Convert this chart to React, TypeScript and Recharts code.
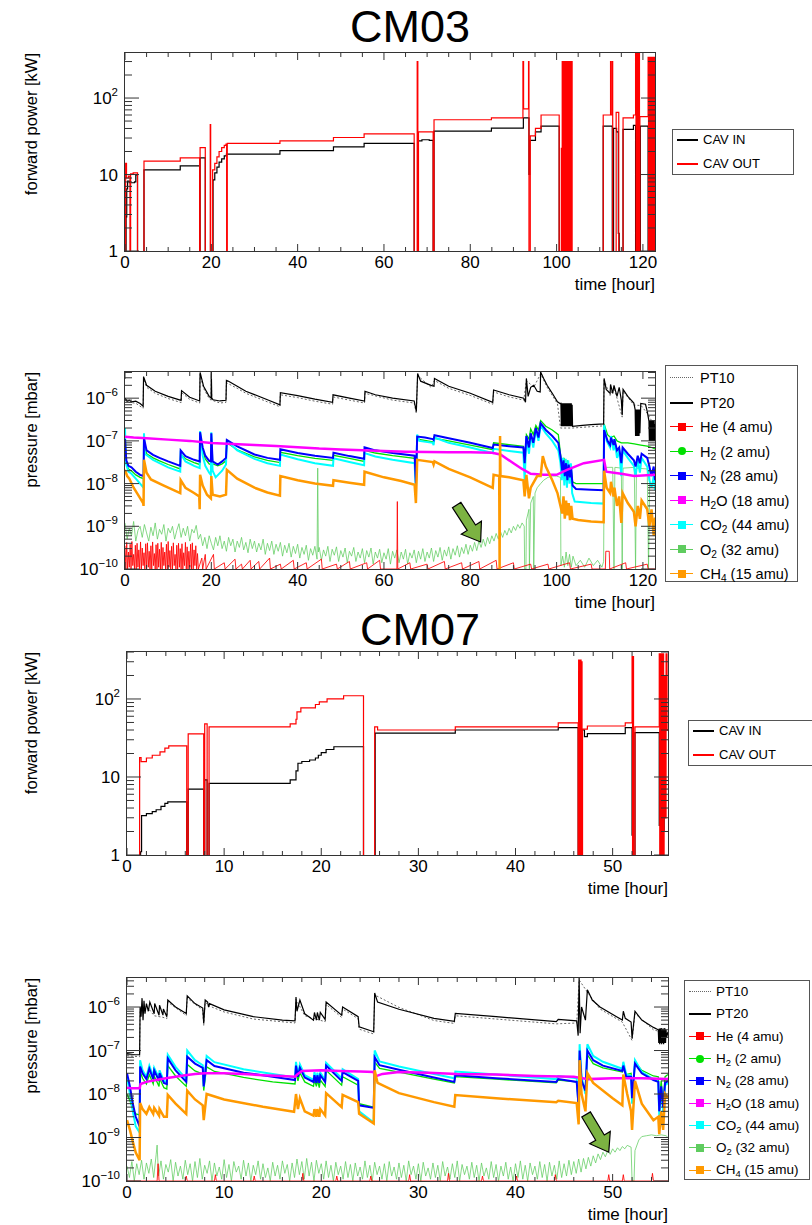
import React from 'react';
import { LineChart, Line, XAxis, YAxis, ReferenceDot } from 'recharts';

type Pt = [number, number];

const FONT = '"Liberation Sans", Arial, Helvetica, sans-serif';
const INK = '#333';
const W = 812;

// ---------- CM03 forward power [kW] vs time [hour] ----------
const CM03_CAV_IN: Pt[] = [
  [0.2, 0.5], [0.25, 2.8], [0.4, 6.5], [0.6, 8.2], [1.0, 7.8], [2.2, 8.0], [2.5, 9.9], [2.9, 0.5],
  [4.4, 11.5], [12.8, 13.0], [17.3, 0.5], [17.4, 16.5], [18.6, 0.5], [20.4, 8.5], [20.8, 10.5],
  [21.3, 12.5], [21.8, 14.5], [22.4, 16.0], [23.0, 17.5], [23.5, 18.5], [35.9, 20.5], [48.3, 23.0],
  [55.4, 25.5], [67.0, 0.5], [67.9, 27.5], [68.8, 28.5], [70.5, 28.0], [71.4, 0.5], [71.6, 37.0],
  [84.9, 40.5], [92.3, 55.0], [93.6, 10.0], [93.8, 28.0], [95.1, 36.0], [96.4, 43.0], [100.6, 0.5],
  [110.8, 43.0], [112.9, 0.5], [113.2, 40.0], [113.9, 36.0], [114.3, 1.7], [114.5, 0.5], [115.4, 39.0],
  [117.8, 44.0], [118.3, 0.5], [119.4, 43.0], [121.2, 0.5], [122.8, 0.5],
];
const CM03_CAV_OUT: Pt[] = [
  [0.1, 0.5], [0.15, 14.0], [0.35, 9.0], [0.8, 9.5], [1.15, 0.5], [1.3, 10.2], [1.9, 10.5], [2.9, 0.5],
  [4.4, 15.0], [12.8, 16.5], [17.3, 0.5], [17.4, 22.5], [18.6, 0.5], [19.75, 45.0], [19.85, 0.5],
  [20.3, 11.5], [20.8, 14.0], [21.3, 17.0], [21.8, 20.0], [22.4, 22.5], [23.0, 24.0], [23.4, 25.0],
  [23.55, 0.5], [23.7, 25.5], [35.9, 27.5], [48.3, 30.5], [55.4, 34.0], [67.0, 0.5], [67.7, 300],
  [67.85, 0.5], [68.0, 36.0], [71.4, 0.5], [71.6, 52.0], [84.9, 55.0], [92.2, 300], [92.35, 72.0],
  [93.5, 300], [93.6, 0.5], [93.9, 32.0], [95.1, 40.0], [96.4, 60.0], [100.6, 0.5], [101.1, 22.0],
  [101.2, 0.5], [101.3, 300], [101.4, 0.5], [101.5, 300], [101.6, 0.5], [101.7, 300], [101.8, 0.5],
  [101.9, 300], [102.0, 0.5], [102.1, 300], [102.2, 0.5], [102.3, 300], [102.4, 0.5], [102.5, 300],
  [102.6, 0.5], [102.7, 300], [102.8, 0.5], [102.9, 300], [103.0, 0.5], [103.1, 300], [103.2, 0.5],
  [103.3, 300], [103.4, 0.5], [103.5, 300], [103.6, 0.5], [110.8, 60.0], [112.5, 300], [112.6, 60.0],
  [112.9, 300], [113.0, 0.5], [113.8, 65.0], [114.4, 0.5], [115.4, 55.0], [117.8, 60.0], [118.3, 400],
  [118.4, 0.5], [118.5, 400], [118.6, 0.5], [118.7, 400], [118.8, 0.5], [118.9, 400], [119.0, 0.5],
  [119.1, 400], [119.2, 0.5], [119.3, 57.0], [121.2, 340], [121.3, 0.5], [121.4, 340], [121.5, 0.5],
  [121.6, 340], [121.7, 0.5], [121.8, 340], [121.9, 0.5], [122.0, 340], [122.1, 0.5], [122.2, 340],
  [122.3, 0.5], [122.4, 340], [122.5, 0.5], [122.6, 340], [122.7, 0.5], [122.8, 340],
];

// ---------- CM03 pressure [mbar] ----------
const CM03_PT10: Pt[] = [
  [0, 9e-7], [1, 8e-7], [2.5, 7.6e-7], [4.2, 5.8e-7], [4.3, 2.9e-6], [5, 1.8e-6], [7, 1.3e-6], [10, 9.8e-7],
  [13, 7.9e-7], [13.1, 1.35e-6], [15, 9.4e-7], [17.3, 7.7e-7], [17.4, 3.6e-6], [18.2, 1.7e-6], [19.5, 9.8e-7],
  [19.95, 9e-7], [20.0, 3.7e-6], [20.1, 9e-7], [22, 7.7e-7], [23.4, 8e-7], [23.5, 2.3e-6], [26, 1.7e-6],
  [28, 1.3e-6], [33, 8.2e-7], [35.9, 6.3e-7], [36, 1.2e-6], [40, 1.03e-6], [44, 8.5e-7], [48.1, 7.2e-7],
  [48.2, 1.07e-6], [52, 9e-7], [55.5, 7.7e-7], [55.6, 1.3e-6], [62, 9e-7], [67, 7.7e-7], [67.5, 4.4e-7],
  [67.8, 3.4e-6], [70.9, 1.8e-6], [71.7, 2.6e-6], [75, 1.7e-6], [80, 1.16e-6], [85.2, 7.2e-7], [85.4, 1.4e-6],
  [89, 1.07e-6], [92.4, 9e-7], [93.0, 2.6e-6], [94.7, 1.8e-6], [96.3, 3.7e-6], [97.8, 1.8e-6], [99.0, 1.16e-6],
  [100.2, 7.4e-7], [100.9, 2e-7], [103.7, 2e-7], [108, 2.15e-7], [110.9, 2.25e-7], [111.0, 2.6e-6],
  [112.4, 1.16e-6], [113.3, 1.8e-6], [115.2, 3.6e-7], [115.4, 1.45e-6], [117.9, 6.9e-7], [119.6, 6.7e-7],
  [121.0, 4.4e-7], [122.8, 2.2e-7],
];
const CM03_PT20: Pt[] = [
  [0, 1.0e-6], [0.5, 8.5e-7], [1, 9e-7], [1.5, 8.2e-7], [2.5, 8.5e-7], [3.5, 7.5e-7], [4.2, 6.5e-7],
  [4.3, 3.2e-6], [5, 2.0e-6], [7, 1.45e-6], [10, 1.1e-6], [13, 8.9e-7], [13.1, 1.5e-6], [15, 1.05e-6],
  [17.3, 8.6e-7], [17.4, 4.0e-6], [18.2, 1.9e-6], [19.5, 1.1e-6], [19.95, 1.0e-6], [20.0, 4.1e-6],
  [20.1, 1.0e-6], [20.4, 9.2e-7], [22, 8.6e-7], [23.4, 8.9e-7], [23.5, 2.6e-6], [24, 2.5e-6], [26, 1.9e-6],
  [28, 1.45e-6], [33, 9.2e-7], [35.9, 7.0e-7], [36, 1.35e-6], [40, 1.15e-6], [44, 9.5e-7], [48.1, 8e-7],
  [48.2, 1.2e-6], [52, 1.0e-6], [55.5, 8.6e-7], [55.6, 1.45e-6], [58, 1.2e-6], [62, 1.0e-6], [67, 8.6e-7],
  [67.5, 4.9e-7], [67.8, 3.8e-6], [68.5, 2.5e-6], [70.9, 2.0e-6], [71.6, 1.9e-6], [71.7, 2.9e-6],
  [75, 1.9e-6], [80, 1.3e-6], [85.2, 8e-7], [85.4, 1.55e-6], [89, 1.2e-6], [92.4, 1.0e-6], [92.8, 8e-7],
  [93.0, 2.9e-6], [93.4, 1.1e-6], [94.0, 1.8e-6], [94.7, 2.0e-6], [95.5, 1.45e-6], [96.2, 1.4e-6],
  [96.3, 4.1e-6], [97.0, 2.9e-6], [97.8, 2.0e-6], [99.0, 1.3e-6], [100.2, 8.2e-7], [100.8, 7.5e-7],
  [101.0, 7.6e-7], [101.1, 2.2e-7], [101.2, 7.6e-7], [101.3, 2.2e-7], [101.4, 7.6e-7], [101.5, 2.2e-7],
  [101.6, 7.6e-7], [101.7, 2.2e-7], [101.8, 7.6e-7], [101.9, 2.2e-7], [102.0, 7.6e-7], [102.1, 2.2e-7],
  [102.2, 7.6e-7], [102.3, 2.2e-7], [102.4, 7.6e-7], [102.5, 2.2e-7], [102.6, 7.6e-7], [102.7, 2.2e-7],
  [102.8, 7.6e-7], [102.9, 2.2e-7], [103.0, 7.6e-7], [103.1, 2.2e-7], [103.2, 7.6e-7], [103.3, 2.2e-7],
  [103.4, 7.6e-7], [103.5, 2.2e-7], [103.6, 7.0e-7], [103.7, 2.2e-7], [106, 2.3e-7], [108, 2.4e-7],
  [110.9, 2.5e-7], [111.0, 2.9e-6], [111.5, 1.6e-6], [112.4, 1.3e-6], [112.5, 2.1e-6], [113.0, 1.3e-6],
  [113.3, 2.0e-6], [114.0, 1.1e-6], [114.5, 1.8e-6], [115.0, 9e-7], [115.2, 4e-7], [115.4, 1.6e-6],
  [116.5, 1.1e-6], [117.9, 7.7e-7], [118.2, 5.4e-7], [118.3, 1.3e-7], [118.4, 5.4e-7], [118.5, 1.3e-7],
  [118.6, 5.4e-7], [118.7, 1.3e-7], [118.8, 5.4e-7], [118.9, 1.3e-7], [119.0, 5.4e-7], [119.1, 1.3e-7],
  [119.2, 5.4e-7], [119.3, 1.5e-7], [119.5, 7.5e-7], [120.6, 7.2e-7], [121.0, 4.9e-7], [121.4, 2.9e-7],
  [121.5, 1.0e-7], [121.6, 2.9e-7], [121.7, 1.0e-7], [121.8, 2.9e-7], [121.9, 1.0e-7], [122.0, 2.9e-7],
  [122.1, 1.0e-7], [122.2, 2.9e-7], [122.3, 1.0e-7], [122.4, 2.9e-7], [122.5, 1.0e-7], [122.6, 2.9e-7],
  [122.7, 1.0e-7], [122.8, 2.5e-7],
];
const CM03_HE: Pt[] = [
  [0, 3.5e-10], [0.2, 1e-10], [0.4, 4.2e-10], [0.6, 1e-10], [0.8, 2.5e-10], [1.0, 1.1e-10], [1.2, 3.8e-10],
  [1.4, 1e-10], [1.6, 4.4e-10], [1.8, 1.2e-10], [2.0, 2.2e-10], [2.2, 1e-10], [2.4, 3.6e-10], [2.6, 1e-10],
  [2.8, 4e-10], [3.0, 1.1e-10], [3.2, 2.8e-10], [3.4, 1e-10], [3.6, 4.3e-10], [3.8, 1e-10], [4.0, 3.1e-10],
  [4.2, 1.2e-10], [4.4, 2.4e-10], [4.6, 1e-10], [4.8, 3.9e-10], [5.0, 1e-10], [5.2, 4.1e-10], [5.4, 1.1e-10],
  [5.6, 2.6e-10], [5.8, 1e-10], [6.0, 3.5e-10], [6.2, 1e-10], [6.4, 4.3e-10], [6.6, 1.2e-10], [6.8, 2.3e-10],
  [7.0, 1e-10], [7.2, 3.7e-10], [7.4, 1e-10], [7.6, 4e-10], [7.8, 1.1e-10], [8.0, 2.9e-10], [8.2, 1e-10],
  [8.4, 4.2e-10], [8.6, 1e-10], [8.8, 3.2e-10], [9.0, 1.2e-10], [9.2, 2.5e-10], [9.4, 1e-10], [9.6, 3.8e-10],
  [9.8, 1e-10], [10.0, 4.4e-10], [10.2, 1.1e-10], [10.4, 2.7e-10], [10.6, 1e-10], [10.8, 3.4e-10],
  [11.0, 1e-10], [11.2, 4.1e-10], [11.4, 1.2e-10], [11.6, 2.2e-10], [11.8, 1e-10], [12.0, 3.6e-10],
  [12.2, 1e-10], [12.4, 4e-10], [12.6, 1.1e-10], [12.8, 3e-10], [13.0, 1e-10], [13.2, 3.9e-10], [13.4, 1e-10],
  [13.6, 2.4e-10], [13.8, 1.2e-10], [14.0, 4.2e-10], [14.2, 1e-10], [14.4, 3.3e-10], [14.6, 1e-10],
  [14.8, 2.6e-10], [15.0, 1.1e-10], [15.2, 3.8e-10], [15.4, 1e-10], [15.6, 4.1e-10], [15.8, 1e-10],
  [16.0, 2.8e-10], [16.2, 1.2e-10], [16.4, 3.5e-10], [16.6, 1e-10], [16.8, 2.3e-10], [17.0, 1e-10],
  [17.8, 1.8e-10], [18.0, 1e-10], [18.6, 2.2e-10], [18.8, 1e-10], [20.5, 2.2e-10], [20.7, 1e-10],
  [23, 1.4e-10], [23.2, 1e-10], [25.5, 1.7e-10], [25.7, 1e-10], [27, 1.3e-10], [27.2, 1e-10], [29, 1.6e-10],
  [29.2, 1e-10], [31, 1.5e-10], [31.2, 1e-10], [33.5, 1.8e-10], [33.7, 1e-10], [36, 1.3e-10], [36.2, 1e-10],
  [39, 1.6e-10], [39.2, 1e-10], [42, 1.4e-10], [42.2, 1e-10], [45.5, 1.7e-10], [45.7, 1e-10], [49, 1.3e-10],
  [49.2, 1e-10], [52, 1.5e-10], [52.2, 1e-10], [56, 1.4e-10], [56.2, 1e-10], [59, 1.6e-10], [59.2, 1e-10],
  [63.0, 1e-10], [63.1, 3.8e-9], [63.2, 1e-10], [66, 1.4e-10], [66.2, 1e-10], [70, 1.3e-10], [70.2, 1e-10],
  [74, 1.5e-10], [74.2, 1e-10], [78, 1.4e-10], [78.2, 1e-10], [82, 1.5e-10], [82.2, 1e-10], [86, 1.6e-10],
  [86.2, 1e-10], [90, 1.4e-10], [90.2, 1e-10], [94, 1.3e-10], [94.2, 1e-10], [98, 1.3e-10], [98.2, 1e-10],
  [103, 1.4e-10], [103.2, 1e-10], [108, 1.3e-10], [108.2, 1e-10], [111.3, 1e-10], [111.4, 2.6e-10],
  [112.2, 2.6e-10], [112.3, 1e-10], [116, 1.4e-10], [116.2, 1e-10], [121, 1.3e-10], [121.2, 1e-10],
  [122.8, 1e-10],
];
const CM03_H2: Pt[] = [
  [0, 9e-8], [0.3, 3e-8], [0.8, 2.2e-8], [1.5, 2.0e-8], [2.5, 1.6e-8], [3.5, 1.4e-8], [4.3, 1.3e-8],
  [4.4, 9e-8], [5, 5.0e-8], [6.5, 4.0e-8], [8, 3.4e-8], [10, 2.8e-8], [12.8, 2.2e-8], [12.9, 5.0e-8],
  [14, 3.8e-8], [16, 3.1e-8], [17.3, 2.8e-8], [17.4, 1.3e-7], [18, 6e-8], [18.6, 3.8e-8], [19.5, 2.9e-8],
  [19.9, 2.8e-8], [20.0, 1.2e-7], [20.3, 2.9e-8], [21.5, 2.6e-8], [22.5, 2.9e-8], [23.4, 3.4e-8],
  [23.6, 9e-8], [26, 6.2e-8], [30, 4.2e-8], [33, 3.5e-8], [35.9, 3.1e-8], [36.0, 5.4e-8], [40, 4.5e-8],
  [44, 3.9e-8], [48.2, 3.5e-8], [48.3, 4.6e-8], [52, 3.9e-8], [55.4, 3.3e-8], [55.5, 6.0e-8], [58, 5.2e-8],
  [62, 4.5e-8], [67.1, 3.9e-8], [67.4, 1.0e-8], [67.7, 1.1e-7], [71.3, 9.5e-8], [71.5, 9e-8],
  [71.7, 1.15e-7], [75, 1.0e-7], [80, 8e-8], [85.2, 6.2e-8], [85.4, 9e-8], [89, 8.2e-8], [92.3, 7.5e-8],
  [92.6, 3e-8], [93.0, 1.4e-7], [93.6, 1.1e-7], [94.0, 1.9e-7], [94.6, 1.4e-7], [95.2, 2.3e-7],
  [95.8, 1.8e-7], [96.3, 3.0e-7], [97.5, 2.2e-7], [99, 1.8e-7], [100.4, 1.4e-7], [100.9, 5e-8],
  [101.3, 2.5e-8], [101.7, 4e-8], [102.1, 1.8e-8], [102.5, 3.5e-8], [102.9, 1.6e-8], [103.3, 2.8e-8],
  [103.7, 1.1e-8], [104.5, 1.0e-8], [108, 1.0e-8], [110.9, 1.0e-8], [111.0, 2.5e-7], [111.8, 1.4e-7],
  [112.5, 1.2e-7], [113.3, 1.3e-7], [114.0, 1.0e-7], [115.0, 9e-8], [116.5, 9e-8], [118, 8.5e-8],
  [119.5, 8e-8], [121, 7.5e-8], [122, 7e-8], [122.8, 6.5e-8],
];
const CM03_N2: Pt[] = [
  [0, 1.1e-7], [0.3, 3.5e-8], [0.8, 2.6e-8], [1.5, 2.4e-8], [2.5, 1.9e-8], [3.5, 1.6e-8], [4.3, 1.5e-8],
  [4.4, 1.15e-7], [5, 6.0e-8], [6.5, 4.7e-8], [8, 4.0e-8], [10, 3.3e-8], [12.8, 2.6e-8], [12.9, 6.0e-8],
  [14, 4.4e-8], [16, 3.6e-8], [17.3, 3.3e-8], [17.4, 1.6e-7], [18.0, 7e-8], [18.6, 4.5e-8], [19.5, 3.4e-8],
  [19.9, 3.3e-8], [20.0, 1.5e-7], [20.3, 3.3e-8], [21.5, 2.8e-8], [22.5, 3.3e-8], [23.4, 4e-8],
  [23.6, 1.05e-7], [26, 7.4e-8], [30, 4.8e-8], [33, 4.0e-8], [35.9, 3.6e-8], [36.0, 6.4e-8], [40, 5.2e-8],
  [44, 4.5e-8], [48.2, 4.0e-8], [48.3, 5.3e-8], [52, 4.4e-8], [55.4, 3.8e-8], [55.5, 7.1e-8], [58, 6e-8],
  [62, 5.2e-8], [67.1, 4.5e-8], [67.4, 1.0e-8], [67.7, 1.26e-7], [69.5, 1.2e-7], [71.3, 1.1e-7],
  [71.5, 1.05e-7], [71.7, 1.35e-7], [75, 1.15e-7], [80, 9e-8], [85.2, 6.8e-8], [85.4, 8.2e-8], [89, 7.5e-8],
  [92.3, 7e-8], [92.6, 3e-8], [93.0, 1.3e-7], [93.6, 7e-8], [94.0, 1.5e-7], [94.6, 9e-8], [95.2, 2.0e-7],
  [95.8, 1.2e-7], [96.3, 2.6e-7], [97.5, 1.8e-7], [99, 1.3e-7], [100.4, 9e-8], [100.9, 4.4e-8],
  [101.3, 2e-8], [101.6, 3.5e-8], [101.9, 1.5e-8], [102.2, 3e-8], [102.5, 1.2e-8], [102.8, 2.8e-8],
  [103.1, 1.4e-8], [103.4, 2.2e-8], [103.7, 9e-9], [104.5, 7.5e-9], [108, 7.2e-9], [110.9, 7.0e-9],
  [111.0, 1.8e-7], [111.8, 1.0e-7], [112.4, 8e-8], [112.6, 1.2e-7], [113.2, 8e-8], [113.4, 1.1e-7],
  [114.0, 6e-8], [114.5, 7e-8], [115.0, 3e-8], [115.3, 7e-8], [116.5, 5e-8], [117.9, 3.5e-8],
  [118.3, 2.5e-8], [118.8, 4.5e-8], [119.3, 3e-8], [119.7, 5e-8], [121, 4e-8], [121.5, 2.5e-8],
  [122, 1.5e-8], [122.5, 2.5e-8], [122.8, 1.2e-8],
];
const CM03_H2O: Pt[] = [
  [0, 1.25e-7], [2, 1.2e-7], [5, 1.15e-7], [10, 1.07e-7], [15, 1.0e-7], [20, 8.9e-8], [25, 8.5e-8],
  [30, 8e-8], [35, 7.6e-8], [40, 7.1e-8], [45, 6.6e-8], [50, 6.3e-8], [55, 6.0e-8], [60, 5.8e-8],
  [65, 5.6e-8], [70, 5.5e-8], [75, 5.4e-8], [80, 5.4e-8], [85, 5.3e-8], [87, 4.8e-8], [90, 3.0e-8],
  [92, 2.2e-8], [94, 1.7e-8], [97, 1.6e-8], [100, 1.6e-8], [102.4, 2.1e-8], [106.3, 3.0e-8], [111, 3.6e-8],
  [111.5, 1.9e-8], [115, 1.7e-8], [118, 1.5e-8], [122.8, 1.6e-8],
];
const CM03_CO2: Pt[] = [
  [0, 2.0e-7], [0.2, 3e-8], [0.8, 1.9e-8], [1.5, 1.7e-8], [2.5, 1.3e-8], [3.5, 1.0e-8], [4.3, 8e-9],
  [4.4, 1.5e-7], [4.6, 5e-8], [6.5, 3.6e-8], [8, 3.0e-8], [10, 2.4e-8], [12.8, 1.9e-8], [12.9, 5.0e-8],
  [14, 3.3e-8], [16, 2.6e-8], [17.3, 2.3e-8], [17.4, 1.7e-7], [18, 4.5e-8], [18.6, 2.6e-8], [19.5, 1.8e-8],
  [19.9, 1.6e-8], [20.0, 1.6e-7], [20.3, 2.0e-8], [21.0, 1.4e-8], [22.5, 2.0e-8], [23.4, 2.8e-8],
  [23.6, 1.0e-7], [26, 6.0e-8], [30, 3.8e-8], [33, 3.0e-8], [35.9, 2.6e-8], [36.0, 4.8e-8], [40, 3.7e-8],
  [44, 3.0e-8], [48.2, 2.6e-8], [48.3, 3.9e-8], [52, 3.2e-8], [55.4, 2.7e-8], [55.5, 5.2e-8], [58, 4.3e-8],
  [62, 3.6e-8], [67.1, 3.0e-8], [67.4, 7e-9], [67.7, 1.4e-7], [68.2, 1.0e-7], [71.3, 9e-8], [71.5, 8e-8],
  [71.7, 1.2e-7], [75, 9e-8], [80, 7e-8], [85.2, 5.2e-8], [85.4, 6.5e-8], [89, 5.8e-8], [92.3, 5.3e-8],
  [92.6, 1.2e-8], [93.0, 1.2e-7], [93.6, 5e-8], [94.0, 1.4e-7], [94.6, 7e-8], [95.2, 1.8e-7], [95.8, 1.0e-7],
  [96.3, 2.3e-7], [97.5, 1.5e-7], [99, 1.0e-7], [100.4, 6e-8], [100.9, 3e-8], [101.2, 1.2e-8],
  [101.5, 4e-8], [101.8, 9e-9], [102.1, 3.8e-8], [102.4, 8e-9], [102.7, 3.5e-8], [103.0, 1.0e-8],
  [103.3, 3e-8], [103.6, 6e-9], [104.2, 3.8e-9], [108, 3.5e-9], [110.9, 3.4e-9], [111.0, 2.4e-7],
  [111.6, 1.0e-7], [112.4, 7e-8], [112.6, 1.3e-7], [113.2, 6e-8], [113.4, 1.1e-7], [114.0, 4e-8],
  [114.5, 6e-8], [115.0, 1.5e-8], [115.3, 6e-8], [116.5, 4e-8], [117.9, 2.6e-8], [118.3, 1.5e-8],
  [118.8, 3.5e-8], [119.3, 1.8e-8], [119.7, 4e-8], [121, 2.5e-8], [121.5, 1.2e-8], [122, 8e-9],
  [122.5, 1.5e-8], [122.8, 7e-9],
];
const CM03_O2: Pt[] = [
  [0, 1.2e-9], [0.5, 5e-10], [1, 9e-10], [1.5, 6e-10], [2, 1.3e-9], [2.5, 4.5e-10], [3, 8e-10], [3.5, 1.0e-9],
  [4, 5.5e-10], [4.5, 1.1e-9], [5, 7e-10], [5.5, 4.5e-10], [6, 9.5e-10], [6.5, 6e-10], [7, 1.2e-9],
  [7.5, 5e-10], [8, 8.5e-10], [8.5, 6.5e-10], [9, 1.1e-9], [9.5, 4.5e-10], [10, 9e-10], [10.5, 7e-10],
  [11, 1.0e-9], [11.5, 5e-10], [12, 8e-10], [12.5, 1.15e-9], [13, 5.5e-10], [13.5, 9e-10], [14, 6e-10],
  [14.5, 1.0e-9], [15, 4.5e-10], [15.5, 8.5e-10], [16, 7e-10], [16.5, 1.05e-9], [17, 5e-10], [17.5, 6.5e-10],
  [18, 3.5e-10], [18.5, 5.5e-10], [19, 3e-10], [19.5, 6e-10], [20, 4e-10], [20.5, 2.8e-10], [21, 5.5e-10],
  [21.5, 3.5e-10], [22, 6e-10], [22.5, 3e-10], [23, 4.5e-10], [23.5, 2.6e-10], [24, 5.5e-10], [24.5, 3.5e-10],
  [25, 5e-10], [25.5, 2.5e-10], [26, 4.5e-10], [26.5, 3.2e-10], [27, 5.5e-10], [27.5, 2.8e-10], [28, 4.2e-10],
  [28.5, 2.4e-10], [29, 5e-10], [29.5, 3e-10], [30, 4.5e-10], [30.5, 2.5e-10], [31, 4e-10], [31.5, 2.8e-10],
  [32, 5e-10], [32.5, 2.2e-10], [33, 4e-10], [33.5, 2.7e-10], [34, 4.5e-10], [34.5, 2.2e-10], [35, 3.8e-10],
  [35.5, 2.6e-10], [36, 4.2e-10], [36.5, 2e-10], [37, 3.6e-10], [37.5, 2.4e-10], [38, 4e-10], [38.5, 1.9e-10],
  [39, 3.4e-10], [39.5, 2.3e-10], [40, 3.8e-10], [40.5, 1.8e-10], [41, 3.2e-10], [41.5, 2.2e-10],
  [42, 3.6e-10], [42.5, 1.6e-10], [43, 3e-10], [43.5, 2.1e-10], [44, 3.4e-10], [44.5, 1.7e-10],
  [44.65, 2.3e-8], [44.8, 2.5e-10], [45, 3.2e-10], [45.5, 1.6e-10], [46, 2.8e-10], [46.5, 2e-10],
  [47, 3.4e-10], [47.5, 1.5e-10], [48, 2.9e-10], [48.5, 2.1e-10], [49, 3.3e-10], [49.5, 1.5e-10],
  [50, 2.7e-10], [50.5, 1.9e-10], [51, 3.1e-10], [51.5, 1.4e-10], [52, 2.6e-10], [52.5, 2e-10], [53, 3.2e-10],
  [53.5, 1.5e-10], [54, 2.5e-10], [54.5, 1.8e-10], [55, 3e-10], [55.5, 1.4e-10], [56, 2.7e-10],
  [56.5, 1.9e-10], [57, 3.1e-10], [57.5, 1.3e-10], [58, 2.5e-10], [58.5, 1.8e-10], [59, 2.9e-10],
  [59.5, 1.4e-10], [60, 2.4e-10], [60.5, 1.7e-10], [61, 3e-10], [61.5, 1.3e-10], [62, 2.6e-10],
  [62.5, 1.8e-10], [63, 2.8e-10], [63.5, 1.4e-10], [64, 2.5e-10], [64.5, 1.7e-10], [65, 2.9e-10],
  [65.5, 1.3e-10], [66, 2.4e-10], [66.5, 1.8e-10], [67, 2.8e-10], [67.5, 1.4e-10], [68, 2.6e-10],
  [68.5, 1.7e-10], [69, 3e-10], [69.5, 1.5e-10], [70, 2.5e-10], [70.5, 1.8e-10], [71, 3.1e-10],
  [71.5, 1.5e-10], [72, 2.7e-10], [72.5, 1.9e-10], [73, 3.2e-10], [73.5, 1.6e-10], [74, 2.8e-10],
  [74.5, 2e-10], [75, 3.3e-10], [75.5, 1.7e-10], [76, 3e-10], [76.5, 2.1e-10], [77, 3.5e-10], [77.5, 1.9e-10],
  [78, 3.2e-10], [78.5, 2.3e-10], [79, 3.8e-10], [79.5, 2.2e-10], [80, 3.6e-10], [80.5, 2.6e-10],
  [81, 4.2e-10], [81.5, 2.7e-10], [82, 4.5e-10], [82.5, 3.2e-10], [83, 5e-10], [83.5, 3.4e-10], [84, 5.5e-10],
  [84.5, 3.9e-10], [85, 6e-10], [85.5, 4.5e-10], [86, 6.8e-10], [86.5, 5e-10], [87, 7.5e-10], [87.5, 5.5e-10],
  [88, 8e-10], [88.5, 6.2e-10], [89, 9e-10], [89.5, 7e-10], [90, 1.0e-9], [90.5, 8e-10], [91, 1.1e-9],
  [91.5, 9e-10], [92, 1.2e-9], [92.5, 1.0e-9], [92.6, 1.0e-10], [92.9, 1.0e-10], [93.0, 1.4e-9],
  [93.6, 2.5e-9], [93.7, 1.0e-10], [94.0, 3.5e-9], [94.6, 5e-9], [94.7, 1.0e-10], [95.0, 6e-9], [95.5, 8e-9],
  [96.3, 1.0e-8], [97, 1.2e-8], [98, 1.4e-8], [99, 1.5e-8], [100, 1.5e-8], [100.9, 1.4e-8], [101.0, 1.2e-10],
  [101.4, 2e-10], [101.8, 1.1e-10], [102.2, 2.5e-10], [102.6, 1.2e-10], [103, 2.2e-10], [103.4, 1.1e-10],
  [103.8, 2e-10], [104.5, 1.2e-10], [105.5, 1.6e-10], [106.5, 1.1e-10], [107.5, 1.8e-10], [108.5, 1.2e-10],
  [109.5, 1.6e-10], [110.5, 1.1e-10], [110.9, 1.5e-10], [111.0, 1.5e-8], [111.5, 2.4e-8], [113, 2.4e-8],
  [113.3, 1.0e-10], [113.5, 2.4e-8], [115, 2.3e-8], [115.2, 1.0e-10], [115.4, 2.3e-8], [118, 2.4e-8],
  [118.3, 1e-10], [118.5, 2.3e-8], [121, 2.2e-8], [121.3, 1e-10], [121.6, 2e-8], [122.8, 2e-8],
];
const CM03_CH4: Pt[] = [
  [0, 2.1e-8], [0.5, 1.5e-8], [1, 1.3e-8], [2, 8e-9], [3, 5.5e-9], [4.2, 3.5e-9], [4.3, 3.0e-9],
  [4.4, 3.6e-8], [5, 1.8e-8], [6, 1.25e-8], [9, 9e-9], [12.8, 6e-9], [12.9, 1.2e-8], [14, 8e-9], [16, 6e-9],
  [17.2, 5e-9], [17.3, 2.5e-9], [17.4, 1.6e-8], [18, 9e-9], [19, 5.5e-9], [19.9, 4.5e-9], [20.0, 1.5e-8],
  [20.3, 5.5e-9], [22, 5e-9], [23.4, 5.5e-9], [23.6, 2.1e-8], [26, 1.3e-8], [30, 8e-9], [33, 6.2e-9],
  [35.9, 5.2e-9], [36.0, 1.5e-8], [40, 1.2e-8], [44, 1.0e-8], [48.2, 8.9e-9], [48.3, 1.2e-8],
  [52, 1.05e-8], [55.4, 9.4e-9], [55.5, 1.9e-8], [60, 1.4e-8], [64, 1.15e-8], [67.1, 9.4e-9],
  [67.4, 3.5e-9], [67.7, 3.6e-8], [71.3, 3.2e-8], [71.5, 2.8e-8], [71.7, 3.3e-8], [75, 2.2e-8],
  [80, 1.4e-8], [85.2, 7.9e-9], [85.4, 1.6e-8], [86.7, 1.5e-8], [86.8, 1.0e-10], [86.9, 1.3e-7],
  [87.0, 1.5e-8], [89, 1.4e-8], [92.3, 1.2e-8], [92.6, 5e-9], [93.0, 1.6e-8], [93.6, 4.5e-9], [94.0, 8e-9],
  [95.5, 1.5e-8], [96.3, 1.5e-8], [96.8, 4.4e-8], [97.5, 2.5e-8], [99, 1.2e-8], [100.2, 6e-9],
  [100.9, 3e-9], [101.3, 2e-9], [101.6, 5e-9], [101.9, 1.5e-9], [102.2, 4e-9], [102.5, 1.8e-9],
  [102.8, 3.5e-9], [103.1, 1.4e-9], [103.4, 3e-9], [103.7, 1.5e-9], [105, 1.4e-9], [108, 1.3e-9],
  [110.9, 1.25e-9], [111.0, 2e-8], [111.6, 8e-9], [112.4, 6e-9], [112.6, 1.1e-8], [113.2, 5e-9],
  [113.4, 8e-9], [114.0, 3e-9], [114.5, 5e-9], [115.0, 1.2e-9], [115.3, 6e-9], [116.5, 3.5e-9],
  [117.9, 2.2e-9], [118.3, 1.0e-9], [118.8, 3e-9], [119.3, 1.5e-9], [119.7, 4e-9], [121, 2.5e-9],
  [121.5, 1e-9], [122, 2.5e-9], [122.5, 6e-10], [122.8, 1.6e-9],
];

// ---------- CM07 forward power [kW] ----------
const CM07_CAV_IN: Pt[] = [
  [1.3, 0.5], [1.4, 1.1], [1.5, 3.2], [2.0, 3.4], [2.6, 3.6], [3.0, 3.8], [3.5, 4.2], [3.9, 4.6], [4.2, 4.8],
  [6.15, 0.5], [6.3, 7.0], [7.9, 0.5], [8.0, 9.2], [8.25, 0.5], [8.45, 8.3], [16.8, 9.2], [17.4, 12.0],
  [17.6, 15.0], [18.0, 15.8], [18.8, 16.5], [19.4, 17.5], [19.7, 19.0], [20.0, 20.5], [20.5, 22.5],
  [21.3, 24.4], [24.35, 0.5], [25.55, 36.5], [33.8, 40.0], [44.4, 43.0], [46.45, 0.5], [46.55, 224],
  [46.6, 0.5], [46.65, 200], [46.7, 3.0], [46.8, 40.0], [47.1, 33.0], [47.4, 36.0], [51.3, 43.0],
  [52.0, 1.8], [52.1, 0.5], [52.3, 37.0], [54.8, 2.4], [54.9, 40.0], [55.0, 3.0], [55.1, 45.0],
  [55.2, 2.0], [55.3, 40.0], [55.7, 40.0],
];
const CM07_CAV_OUT: Pt[] = [
  [1.25, 0.5], [1.3, 17.7], [1.45, 15.7], [2.0, 17.5], [2.6, 19.0], [3.4, 21.0], [3.9, 23.5], [4.3, 25.0],
  [6.15, 0.5], [6.3, 35.6], [7.9, 0.5], [8.0, 48.0], [8.25, 0.5], [8.45, 44.0], [16.8, 48.0], [17.4, 55.0],
  [17.5, 68.5], [17.9, 77.0], [19.4, 85.0], [19.8, 92.0], [20.6, 100], [22.3, 110], [24.35, 0.5],
  [25.5, 44.0], [25.8, 40.0], [33.8, 44.0], [44.4, 49.5], [46.45, 0.5], [46.5, 316], [46.55, 0.5],
  [46.6, 316], [46.65, 0.5], [46.7, 316], [46.75, 0.5], [46.8, 300], [46.85, 0.5], [46.9, 41.0],
  [47.4, 45.0], [51.3, 49.5], [52.0, 350], [52.05, 0.5], [52.1, 350], [52.15, 0.5], [52.3, 44.0],
  [54.8, 380], [54.85, 0.5], [54.9, 380], [54.95, 0.5], [55.0, 380], [55.05, 1.0], [55.1, 380],
  [55.15, 0.5], [55.2, 380], [55.25, 0.5], [55.3, 200], [55.4, 3.0], [55.5, 380], [55.6, 40.0], [55.7, 40.0],
];

// ---------- CM07 pressure [mbar] ----------
const CM07_PT10: Pt[] = [
  [0, 7.6e-8], [1.3, 7.2e-8], [1.35, 9e-7], [2.0, 1.05e-6], [2.8, 6.3e-7], [3.7, 5.8e-7], [4.1, 5.4e-7],
  [4.2, 1.3e-6], [6.1, 6.4e-7], [6.2, 1.6e-6], [7.8, 8.5e-7], [7.9, 3.8e-7], [8.05, 1.3e-6], [8.5, 1.05e-6],
  [10, 7.7e-7], [13, 5.3e-7], [17.3, 4.3e-7], [17.4, 1.5e-6], [18.3, 6.3e-7], [20.4, 4.6e-7], [20.5, 1.15e-6],
  [22.1, 5.8e-7], [22.2, 9e-7], [23.8, 5.4e-7], [23.9, 3.1e-7], [25.4, 2.4e-7], [25.5, 1.9e-6], [28, 9.8e-7],
  [31.6, 4.9e-7], [33.7, 4.2e-7], [33.8, 6.3e-7], [44.2, 4.1e-7], [46.3, 4.3e-7], [46.55, 4.2e-6],
  [47.4, 2.2e-6], [48.7, 9e-7], [51.0, 4.5e-7], [52.0, 1.7e-7], [52.3, 7.1e-7], [54.2, 3e-7], [55.7, 2.4e-7],
];
const CM07_PT20: Pt[] = [
  [0, 8.5e-8], [0.8, 8e-8], [1.3, 8e-8], [1.35, 1.0e-6], [1.45, 6e-7], [1.55, 1.6e-6], [1.65, 5e-7],
  [1.75, 1.4e-6], [1.85, 7e-7], [2.0, 1.2e-6], [2.2, 8e-7], [2.35, 1.3e-6], [2.8, 7e-7], [2.85, 1.2e-6],
  [3.3, 6.5e-7], [3.35, 1.1e-6], [3.7, 6.5e-7], [3.75, 9e-7], [4.1, 6e-7], [4.2, 1.45e-6], [5.0, 1.0e-6],
  [6.1, 7.1e-7], [6.2, 1.8e-6], [7.0, 1.2e-6], [7.8, 9.5e-7], [7.9, 4.2e-7], [8.05, 1.45e-6], [8.3, 1.3e-6],
  [8.4, 1.0e-6], [8.5, 1.2e-6], [10, 8.6e-7], [13, 6e-7], [16, 5e-7], [17.3, 4.8e-7], [17.4, 1.7e-6],
  [17.5, 8e-7], [17.8, 1.45e-6], [18.3, 7e-7], [19.2, 5e-7], [19.3, 7.5e-7], [19.5, 5e-7], [19.6, 7.5e-7],
  [19.8, 5e-7], [19.9, 7.5e-7], [20.4, 5.2e-7], [20.5, 1.3e-6], [22.1, 6.5e-7], [22.2, 1.0e-6],
  [23.8, 6e-7], [23.9, 3.5e-7], [25.4, 2.7e-7], [25.5, 2.1e-6], [25.8, 1.3e-6], [28, 8.9e-7],
  [31.6, 5.5e-7], [33.7, 4.7e-7], [33.8, 7.1e-7], [38, 6.0e-7], [44.2, 4.6e-7], [44.4, 5.2e-7],
  [46.3, 4.8e-7], [46.45, 2.2e-7], [46.55, 4.7e-6], [46.65, 2.5e-7], [46.8, 1.0e-6], [47.2, 5e-7],
  [47.4, 2.5e-6], [47.9, 1.45e-6], [48.7, 1.0e-6], [51.0, 5e-7], [51.1, 8e-7], [51.3, 5.5e-7],
  [51.9, 4.5e-7], [52.0, 1.9e-7], [52.3, 8e-7], [53, 5e-7], [54.2, 3.4e-7], [54.7, 3e-7], [54.75, 1.5e-7],
  [54.8, 3.2e-7], [54.85, 1.4e-7], [54.9, 3.2e-7], [54.95, 1.5e-7], [55.0, 3.3e-7], [55.05, 1.4e-7],
  [55.1, 3.2e-7], [55.15, 1.5e-7], [55.2, 3.1e-7], [55.25, 1.4e-7], [55.3, 3.3e-7], [55.35, 1.5e-7],
  [55.4, 3.2e-7], [55.45, 1.5e-7], [55.5, 3e-7], [55.55, 2e-7], [55.7, 2.7e-7],
];
const CM07_HE: Pt[] = [
  [0, 1e-10], [3.1, 1e-10], [3.2, 2.5e-10], [3.3, 1e-10], [6, 1e-10], [6.1, 1.3e-10], [6.2, 1e-10],
  [9, 1e-10], [9.1, 1.4e-10], [9.2, 1e-10], [13, 1e-10], [13.1, 1.3e-10], [13.2, 1e-10], [18, 1e-10],
  [18.1, 1.5e-10], [18.2, 1e-10], [21.5, 1e-10], [21.6, 1.3e-10], [21.7, 1e-10], [25, 1e-10],
  [25.1, 1.3e-10], [25.2, 1e-10], [29, 1e-10], [29.1, 1.4e-10], [29.2, 1e-10], [33, 1e-10], [33.1, 1.5e-10],
  [33.2, 1e-10], [36.5, 1e-10], [36.6, 1.3e-10], [36.7, 1e-10], [40, 1e-10], [40.1, 1.3e-10], [40.2, 1e-10],
  [44, 1e-10], [44.1, 1.4e-10], [44.2, 1e-10], [49.5, 1e-10], [49.6, 1.4e-10], [49.7, 1e-10], [51, 1e-10],
  [51.1, 1.4e-10], [51.2, 1e-10], [54, 1e-10], [54.1, 1.5e-10], [54.2, 1e-10], [55.7, 1e-10],
];
const CM07_H2: Pt[] = [
  [0, 1.0e-8], [0.3, 7e-9], [0.6, 4.5e-9], [0.9, 3.5e-9], [1.3, 3.3e-9], [1.35, 3.3e-8], [1.6, 2.3e-8],
  [2.0, 1.7e-8], [2.3, 2.8e-8], [2.7, 1.7e-8], [2.8, 2.6e-8], [3.3, 1.5e-8], [3.35, 2.3e-8], [3.8, 1.4e-8],
  [4.1, 1.3e-8], [4.2, 4.5e-8], [5, 2.6e-8], [6.1, 1.5e-8], [6.2, 4.8e-8], [7.0, 3.4e-8], [7.8, 2.9e-8],
  [7.9, 1.2e-8], [8.2, 4.2e-8], [9, 3.3e-8], [12, 2.4e-8], [15, 1.9e-8], [17.3, 1.7e-8], [17.4, 3.5e-8],
  [17.6, 2e-8], [17.8, 3.1e-8], [18.3, 1.9e-8], [19.2, 1.5e-8], [19.3, 2.1e-8], [19.5, 1.5e-8],
  [19.6, 2.1e-8], [19.8, 1.4e-8], [19.9, 2.1e-8], [20.4, 1.5e-8], [20.5, 3.5e-8], [22.1, 1.6e-8],
  [22.2, 2.5e-8], [23.8, 1.6e-8], [23.9, 6e-9], [25.4, 5e-9], [25.5, 5.5e-8], [26, 3.9e-8], [28, 3.2e-8],
  [31.6, 2.2e-8], [33.7, 1.8e-8], [33.8, 2.5e-8], [38, 2.2e-8], [44.2, 1.8e-8], [44.4, 2.1e-8],
  [46.3, 1.9e-8], [46.5, 6e-9], [46.6, 8e-8], [46.8, 2e-8], [47.2, 1.3e-8], [47.4, 8e-8], [48, 5e-8],
  [49, 4e-8], [51.0, 3.2e-8], [51.1, 4.5e-8], [51.4, 2.8e-8], [51.9, 3e-8], [52.0, 1e-8], [52.3, 5.5e-8],
  [53, 3.5e-8], [54.2, 2.6e-8], [54.7, 2.5e-8], [54.8, 6e-9], [55.0, 2e-8], [55.2, 6e-9], [55.4, 2.5e-8],
  [55.7, 2.8e-8],
];
const CM07_N2: Pt[] = [
  [0, 3e-8], [0.3, 1.5e-8], [0.6, 6e-9], [0.9, 3e-9], [1.3, 1.8e-9], [1.35, 4.3e-8], [1.6, 3e-8],
  [2.0, 2.2e-8], [2.3, 3.8e-8], [2.7, 2.2e-8], [2.8, 3.5e-8], [3.3, 2e-8], [3.35, 3e-8], [3.8, 1.8e-8],
  [4.1, 1.7e-8], [4.2, 6.6e-8], [5, 3.5e-8], [6.1, 1.9e-8], [6.2, 7.2e-8], [7.0, 5e-8], [7.8, 4e-8],
  [7.9, 1.5e-8], [8.2, 6e-8], [9, 4.4e-8], [12, 3.1e-8], [15, 2.5e-8], [17.3, 2.1e-8], [17.4, 4.5e-8],
  [17.6, 2.5e-8], [17.8, 4e-8], [18.3, 2.4e-8], [19.2, 1.9e-8], [19.3, 2.7e-8], [19.5, 1.8e-8],
  [19.6, 2.7e-8], [19.8, 1.8e-8], [19.9, 2.7e-8], [20.4, 1.9e-8], [20.5, 4.5e-8], [22.1, 2e-8],
  [22.2, 3.2e-8], [23.8, 2.0e-8], [23.9, 5.5e-9], [25.4, 4.8e-9], [25.5, 7e-8], [26, 4.6e-8], [28, 3.6e-8],
  [31.6, 2.4e-8], [33.7, 1.9e-8], [33.8, 2.7e-8], [38, 2.3e-8], [44.2, 1.9e-8], [44.4, 2.2e-8],
  [46.3, 1.9e-8], [46.5, 5e-9], [46.6, 1.0e-7], [46.8, 2e-8], [47.2, 1.2e-8], [47.4, 1.0e-7], [48, 6e-8],
  [49, 4.5e-8], [51.0, 3.4e-8], [51.1, 4.5e-8], [51.4, 2.5e-8], [51.9, 2.5e-8], [52.0, 8e-9], [52.3, 5e-8],
  [53, 3e-8], [54.2, 2.1e-8], [54.7, 1.9e-8], [54.8, 4e-9], [55.0, 1.5e-8], [55.2, 5e-9], [55.4, 1.8e-8],
  [55.7, 2e-8],
];
const CM07_H2O: Pt[] = [
  [0, 1.4e-8], [0.5, 1.35e-8], [1.3, 1.35e-8], [1.4, 1.7e-8], [2, 1.9e-8], [3, 2.1e-8], [4, 2.3e-8],
  [5, 2.5e-8], [6, 2.7e-8], [7, 2.9e-8], [8, 3.0e-8], [10, 3.0e-8], [12, 2.9e-8], [14, 2.7e-8], [16, 2.6e-8],
  [17.3, 2.5e-8], [17.5, 2.8e-8], [18, 3.4e-8], [20, 3.5e-8], [22, 3.4e-8], [24, 3.3e-8], [25.4, 3.2e-8],
  [25.5, 2.5e-8], [26.3, 2.9e-8], [28, 3.2e-8], [31, 3.1e-8], [34, 2.9e-8], [38, 2.8e-8], [42, 2.6e-8],
  [46, 2.5e-8], [47.5, 2.2e-8], [50, 2.3e-8], [53, 2.3e-8], [55.7, 2.2e-8],
];
const CM07_CO2: Pt[] = [
  [0, 2.5e-8], [0.3, 1e-8], [0.6, 4e-9], [0.9, 1.8e-9], [1.3, 1.3e-9], [1.35, 6e-8], [1.6, 3.5e-8],
  [2.0, 2.5e-8], [2.3, 4.5e-8], [2.7, 2.5e-8], [2.8, 4e-8], [3.3, 2.3e-8], [3.35, 3.5e-8], [3.8, 2e-8],
  [4.1, 1.9e-8], [4.2, 8e-8], [5, 4.2e-8], [6.1, 2.2e-8], [6.2, 1.0e-7], [7.0, 6e-8], [7.8, 4.6e-8],
  [7.9, 1.5e-8], [8.2, 7.5e-8], [9, 5.4e-8], [12, 3.7e-8], [15, 2.9e-8], [17.3, 2.4e-8], [17.4, 5.5e-8],
  [17.6, 2.8e-8], [17.8, 4.8e-8], [18.3, 2.7e-8], [19.2, 2.1e-8], [19.3, 3.2e-8], [19.5, 2e-8],
  [19.6, 3.1e-8], [19.8, 2e-8], [19.9, 3.1e-8], [20.4, 2.1e-8], [20.5, 5.2e-8], [22.1, 2.3e-8],
  [22.2, 3.7e-8], [23.8, 2.2e-8], [23.9, 4e-9], [25.4, 2.2e-9], [25.5, 1.0e-7], [26, 5.6e-8], [28, 4.3e-8],
  [31.6, 2.9e-8], [33.7, 2.3e-8], [33.8, 3.3e-8], [38, 2.8e-8], [44.2, 2.2e-8], [44.4, 2.6e-8],
  [46.3, 2.3e-8], [46.5, 5e-9], [46.6, 1.4e-7], [46.8, 2.5e-8], [47.2, 1.0e-8], [47.4, 1.4e-7],
  [48, 7.5e-8], [49, 5.5e-8], [51.0, 3.8e-8], [51.1, 5.5e-8], [51.4, 2.8e-8], [51.9, 2.6e-8], [52.0, 6e-9],
  [52.3, 6e-8], [53, 3.2e-8], [54.2, 2.2e-8], [54.7, 1.9e-8], [54.8, 3e-9], [55.0, 1.2e-8], [55.2, 4e-9],
  [55.4, 1.6e-8], [55.7, 1.8e-8],
];
const CM07_O2: Pt[] = [
  [0, 2.2e-10], [0.25, 1.2e-10], [0.5, 2.8e-10], [0.75, 1.0e-10], [1.0, 2.5e-10], [1.25, 1.4e-10],
  [1.5, 3.0e-10], [1.75, 1.1e-10], [2.0, 2.6e-10], [2.25, 1.5e-10], [2.5, 3.2e-10], [2.75, 1.2e-10],
  [3.0, 4.0e-10], [3.1, 6.7e-10], [3.25, 1.3e-10], [3.5, 2.9e-10], [3.75, 1.1e-10], [4.0, 2.4e-10],
  [4.25, 1.6e-10], [4.5, 3.1e-10], [4.75, 1.0e-10], [5.0, 2.7e-10], [5.25, 1.3e-10], [5.5, 2.2e-10],
  [5.75, 1.1e-10], [6.0, 3.0e-10], [6.25, 1.4e-10], [6.5, 2.5e-10], [6.75, 1.0e-10], [7.0, 2.8e-10],
  [7.25, 1.2e-10], [7.5, 3.3e-10], [7.75, 1.1e-10], [8.0, 2.3e-10], [8.25, 1.5e-10], [8.5, 2.9e-10],
  [8.75, 1.0e-10], [9.0, 2.6e-10], [9.25, 1.3e-10], [9.5, 2.1e-10], [9.75, 1.1e-10], [10.0, 3.1e-10],
  [10.25, 1.2e-10], [10.5, 2.4e-10], [10.75, 1.0e-10], [11.0, 2.8e-10], [11.25, 1.6e-10], [11.5, 2.2e-10],
  [11.75, 1.1e-10], [12.0, 3.0e-10], [12.25, 1.3e-10], [12.5, 2.6e-10], [12.75, 1.0e-10], [13.0, 2.3e-10],
  [13.25, 1.4e-10], [13.5, 2.9e-10], [13.75, 1.1e-10], [14.0, 2.5e-10], [14.25, 1.2e-10], [14.5, 2.0e-10],
  [14.75, 1.0e-10], [15.0, 2.7e-10], [15.25, 1.3e-10], [15.5, 2.3e-10], [15.75, 1.1e-10], [16.0, 2.9e-10],
  [16.25, 1.5e-10], [16.5, 2.4e-10], [16.75, 1.0e-10], [17.0, 2.6e-10], [17.25, 1.2e-10], [17.5, 3.2e-10],
  [17.75, 1.4e-10], [18.0, 2.8e-10], [18.25, 1.1e-10], [18.5, 3.3e-10], [18.75, 1.3e-10], [19.0, 2.7e-10],
  [19.25, 1.0e-10], [19.5, 3.0e-10], [19.75, 1.5e-10], [20.0, 2.5e-10], [20.25, 1.1e-10], [20.5, 2.9e-10],
  [20.75, 1.2e-10], [21.0, 2.3e-10], [21.25, 1.0e-10], [21.5, 2.7e-10], [21.75, 1.4e-10], [22.0, 2.2e-10],
  [22.25, 1.1e-10], [22.5, 2.8e-10], [22.75, 1.2e-10], [23.0, 2.4e-10], [23.25, 1.0e-10], [23.5, 2.6e-10],
  [23.75, 1.3e-10], [24.0, 2.1e-10], [24.25, 1.1e-10], [24.5, 2.9e-10], [24.75, 1.2e-10], [25.0, 2.3e-10],
  [25.25, 1.0e-10], [25.5, 2.7e-10], [25.75, 1.4e-10], [26.0, 2.2e-10], [26.25, 1.1e-10], [26.5, 2.5e-10],
  [26.75, 1.0e-10], [27.0, 2.8e-10], [27.25, 1.3e-10], [27.5, 2.1e-10], [27.75, 1.1e-10], [28.0, 2.6e-10],
  [28.25, 1.2e-10], [28.5, 2.3e-10], [28.75, 1.0e-10], [29.0, 2.9e-10], [29.25, 1.4e-10], [29.5, 2.2e-10],
  [29.75, 1.1e-10], [30.0, 2.5e-10], [30.25, 1.0e-10], [30.5, 2.7e-10], [30.75, 1.3e-10], [31.0, 2.0e-10],
  [31.25, 1.1e-10], [31.5, 2.6e-10], [31.75, 1.2e-10], [32.0, 2.3e-10], [32.25, 1.0e-10], [32.5, 2.8e-10],
  [32.75, 1.3e-10], [33.0, 2.1e-10], [33.25, 1.1e-10], [33.5, 2.5e-10], [33.75, 1.2e-10], [34.0, 2.9e-10],
  [34.25, 1.0e-10], [34.5, 2.4e-10], [34.75, 1.4e-10], [35.0, 2.2e-10], [35.25, 1.1e-10], [35.5, 2.7e-10],
  [35.75, 1.2e-10], [36.0, 2.3e-10], [36.25, 1.0e-10], [36.5, 2.6e-10], [36.75, 1.3e-10], [37.0, 2.0e-10],
  [37.25, 1.1e-10], [37.5, 2.8e-10], [37.75, 1.2e-10], [38.0, 2.4e-10], [38.25, 1.0e-10], [38.5, 2.2e-10],
  [38.75, 1.3e-10], [39.0, 2.7e-10], [39.25, 1.1e-10], [39.5, 2.1e-10], [39.75, 1.0e-10], [40.0, 2.5e-10],
  [40.25, 1.2e-10], [40.5, 2.9e-10], [40.75, 1.1e-10], [41.0, 2.3e-10], [41.25, 1.0e-10], [41.5, 2.6e-10],
  [41.75, 1.4e-10], [42.0, 2.2e-10], [42.25, 1.1e-10], [42.5, 2.8e-10], [42.75, 1.2e-10], [43.0, 2.4e-10],
  [43.25, 1.0e-10], [43.5, 2.7e-10], [43.75, 1.3e-10], [44.0, 2.3e-10], [44.25, 1.1e-10], [44.5, 2.9e-10],
  [44.75, 1.2e-10], [45.0, 2.5e-10], [45.25, 1.3e-10], [45.5, 3.0e-10], [45.75, 1.4e-10], [46.0, 2.8e-10],
  [46.25, 1.5e-10], [46.5, 3.2e-10], [46.75, 1.6e-10], [47.0, 3.3e-10], [47.25, 1.9e-10], [47.5, 3.5e-10],
  [47.75, 2.2e-10], [48.0, 3.8e-10], [48.25, 2.6e-10], [48.5, 4.2e-10], [48.75, 3.1e-10], [49.0, 4.6e-10],
  [49.25, 3.6e-10], [49.5, 5.0e-10], [49.75, 4.1e-10], [50.0, 5.5e-10], [50.25, 4.6e-10], [50.5, 5.8e-10],
  [50.75, 5.0e-10], [51.0, 6.2e-10], [51.25, 5.5e-10], [51.5, 6.6e-10], [51.9, 6.0e-10], [52.0, 1.0e-10],
  [52.2, 1.0e-10], [52.3, 5.0e-10], [52.7, 8.8e-10], [53, 1.05e-9], [53.5, 1.1e-9], [54, 1.15e-9],
  [54.5, 1.1e-9], [55, 1.15e-9], [55.5, 1.1e-9], [55.7, 1.0e-9],
];
const CM07_CH4: Pt[] = [
  [0, 2.5e-9], [0.3, 1.5e-9], [0.6, 8e-10], [0.9, 4.5e-10], [1.3, 3e-10], [1.35, 6.2e-9], [1.6, 4.5e-9],
  [2.0, 3.5e-9], [2.3, 5e-9], [2.7, 3.5e-9], [2.8, 4.8e-9], [3.3, 3.2e-9], [3.35, 4.5e-9], [3.8, 3e-9],
  [4.1, 3e-9], [4.2, 9.5e-9], [5, 6e-9], [6.1, 3.5e-9], [6.2, 1.2e-8], [7.0, 7.5e-9], [7.8, 5.5e-9],
  [7.9, 2.5e-9], [8.2, 1.0e-8], [10, 7.5e-9], [14, 5.1e-9], [17.2, 3.9e-9], [17.4, 1.0e-8], [17.6, 4.5e-9],
  [17.8, 8e-9], [18.3, 4e-9], [19.2, 3.2e-9], [19.3, 4.5e-9], [19.5, 3e-9], [19.6, 4.5e-9], [19.8, 3e-9],
  [19.9, 4.5e-9], [20.4, 3.2e-9], [20.5, 1.05e-8], [22.1, 5e-9], [22.2, 9.5e-9], [23.8, 6.5e-9],
  [23.9, 3.5e-9], [25.4, 2.1e-9], [25.5, 3.5e-8], [25.8, 1.8e-8], [28, 1.05e-8], [31.6, 6.5e-9],
  [33.7, 5.1e-9], [33.8, 9.5e-9], [38, 8e-9], [44.2, 6.5e-9], [44.4, 7e-9], [46.3, 6.2e-9], [46.5, 2e-9],
  [46.6, 6e-8], [46.8, 1e-8], [47.2, 4e-9], [47.4, 3e-8], [48, 1.8e-8], [50, 8e-9], [51.0, 5.5e-9],
  [51.1, 2.8e-8], [51.5, 1e-8], [51.9, 4e-9], [52.0, 1.5e-9], [52.3, 2e-8], [53, 6e-9], [54.2, 2.5e-9],
  [54.7, 3e-9], [54.8, 1.2e-9], [55.0, 4e-9], [55.2, 1.5e-9], [55.4, 1e-8], [55.7, 8e-9],
];

// ---------- axes, labels, legend entries ----------
const CM03_HOUR_TICKS = [0, 20, 40, 60, 80, 100, 120];
const CM07_HOUR_TICKS = [0, 10, 20, 30, 40, 50];
const POWER_DECADES = [1, 10, 100];
const POWER_LABELS: [string, string][] = [['1', ''], ['10', ''], ['10', '2']];
const PRESSURE_DECADES = [1e-10, 1e-9, 1e-8, 1e-7, 1e-6];
const PRESSURE_LABELS: [string, string][] = [
  ['10', '\u221210'], ['10', '\u22129'], ['10', '\u22128'], ['10', '\u22127'], ['10', '\u22126'],
];
const POWER_NAMES = ['CAV IN', 'CAV OUT'];
const POWER_COLORS = ['#000000', '#ff0000'];
const GAS_NAMES: [string, string, string][] = [
  ['PT10', '', ''], ['PT20', '', ''], ['He (4 amu)', '', ''], ['H', '2', ' (2 amu)'],
  ['N', '2', ' (28 amu)'], ['H', '2', 'O (18 amu)'], ['CO', '2', ' (44 amu)'], ['O', '2', ' (32 amu)'],
  ['CH', '4', ' (15 amu)'],
];
const GAS_COLORS = ['#666666', '#000000', '#ff0000', '#00e000', '#0000ff', '#ff00ff', '#00ffff', '#5fcc5f', '#ff9900'];
const GAS_MARKERS = ['', '', 'square', 'circle', 'square', 'square', 'square', 'square', 'square'];

// green arrows: tip position (hour, mbar)
const CM03_ARROW: Pt = [82.4, 4.3e-10];
const CM07_ARROW: Pt = [49.6, 4.6e-10];

type Plot = { left: number; right: number; top: number; bottom: number };
type Series = { data: Pt[]; color: string; width: number; dash?: string; opacity?: number; step?: boolean };

const toXY = (pts: Pt[]) => pts.map(([x, y]) => ({ x, y }));

const Arrow = ({ cx, cy, angle }: { cx: number; cy: number; angle: number }) => (
  <polygon
    points="0,0 -17,-12 -17,-5 -44,-5 -44,5 -17,5 -17,12"
    transform={`translate(${cx},${cy}) rotate(${angle})`}
    fill="#7cb342"
    stroke="#000"
    strokeWidth={1.2}
  />
);

function Panel(props: {
  top: number; height: number; plot: Plot; xMax: number; xMajor: number[]; xStep: number;
  yMax: number; decades: number[]; labels: [string, string][]; yTitle: string;
  series: Series[]; arrow?: Pt; arrowAngle?: number;
}) {
  const { top, height, plot, xMax, xMajor, xStep, yMax, decades, labels, yTitle, series, arrow, arrowAngle } = props;
  const xTicks: number[] = [];
  for (let t = 0; t <= xMax; t += xStep) xTicks.push(t);
  const yTicks: number[] = [];
  decades.forEach((d) => {
    for (let k = 1; k <= 9; k++) if (d * k <= yMax) yTicks.push(d * k);
  });

  const xTick = (p: any) => {
    const { x, payload } = p;
    const major = xMajor.indexOf(payload.value) >= 0;
    const len = major ? 7 : 4;
    return (
      <g>
        <line x1={x} x2={x} y1={plot.bottom} y2={plot.bottom - len} stroke={INK} />
        <line x1={x} x2={x} y1={plot.top} y2={plot.top + len} stroke={INK} />
        {major && (
          <text x={x} y={plot.bottom + 17} textAnchor="middle" fontSize={17} fontFamily={FONT} fill="#000">
            {payload.value}
          </text>
        )}
      </g>
    );
  };

  const yTick = (p: any) => {
    const { y, payload } = p;
    const i = decades.findIndex((d) => Math.abs(payload.value / d - 1) < 1e-6);
    const len = i >= 0 ? 14 : 7;
    return (
      <g>
        <line x1={plot.left} x2={plot.left + len} y1={y} y2={y} stroke={INK} />
        <line x1={plot.right - len} x2={plot.right} y1={y} y2={y} stroke={INK} />
        {i >= 0 && (
          <text x={plot.left - 7} y={y} dy={6} textAnchor="end" fontSize={17} fontFamily={FONT} fill="#000">
            {labels[i][0]}
            {labels[i][1] && (
              <tspan dy={-8} fontSize={11.5}>
                {labels[i][1]}
              </tspan>
            )}
          </text>
        )}
      </g>
    );
  };

  return (
    <div style={{ position: 'absolute', left: 0, top, width: W, height }}>
      <LineChart
        width={W}
        height={height}
        margin={{ top: plot.top, right: W - plot.right, bottom: height - plot.bottom - 20, left: 0 }}
      >
        <XAxis
          type="number"
          dataKey="x"
          domain={[0, xMax]}
          allowDataOverflow
          ticks={xTicks}
          interval={0}
          tickSize={0}
          tickMargin={0}
          axisLine={false}
          height={20}
          tick={xTick}
          label={() => (
            <text x={plot.right} y={plot.bottom + 39} textAnchor="end" fontSize={17} fontFamily={FONT} fill="#000">
              time [hour]
            </text>
          )}
        />
        <YAxis
          type="number"
          scale="log"
          domain={[decades[0], yMax]}
          allowDataOverflow
          ticks={yTicks}
          interval={0}
          tickSize={0}
          tickMargin={0}
          axisLine={false}
          width={plot.left}
          tick={yTick}
          label={() => (
            <text
              transform={`translate(37, ${plot.top}) rotate(-90)`}
              textAnchor="end"
              fontSize={16.5}
              fontFamily={FONT}
              fill="#000"
            >
              {yTitle}
            </text>
          )}
        />
        {series.map((s, i) => (
          <Line
            key={i}
            data={toXY(s.data)}
            dataKey="y"
            type={s.step ? 'stepAfter' : 'linear'}
            stroke={s.color}
            strokeWidth={s.width}
            strokeDasharray={s.dash}
            strokeOpacity={s.opacity ?? 1}
            dot={false}
            isAnimationActive={false}
          />
        ))}
        {arrow && (
          <ReferenceDot
            x={arrow[0]}
            y={arrow[1]}
            r={1}
            shape={(p: any) => <Arrow cx={p.cx} cy={p.cy} angle={arrowAngle ?? 57} />}
          />
        )}
      </LineChart>
      <div
        style={{
          position: 'absolute',
          left: plot.left - 1,
          top: plot.top - 1,
          width: plot.right - plot.left + 2,
          height: plot.bottom - plot.top + 2,
          border: `1px solid ${INK}`,
          boxSizing: 'border-box',
          pointerEvents: 'none',
        }}
      />
    </div>
  );
}

function PowerLegend({ left, top, width }: { left: number; top: number; width: number }) {
  return (
    <div
      style={{
        position: 'absolute', left, top, width, height: 46, border: '1px solid #555',
        boxSizing: 'border-box', background: '#fff', fontFamily: FONT, fontSize: 13,
      }}
    >
      {POWER_NAMES.map((n, i) => (
        <div key={n} style={{ position: 'absolute', left: 0, top: -2 + i * 24, height: 24, width: '100%' }}>
          <div style={{ position: 'absolute', left: 4, top: 11, width: 21, borderTop: `2px solid ${POWER_COLORS[i]}` }} />
          <div style={{ position: 'absolute', left: 30, top: 0, lineHeight: '24px', whiteSpace: 'nowrap' }}>{n}</div>
        </div>
      ))}
    </div>
  );
}

function GasLegend(p: { left: number; top: number; width: number; height: number; rowH: number; fontSize: number; lineW: number; textX: number }) {
  const { left, top, width, height, rowH, fontSize, lineW, textX } = p;
  return (
    <div
      style={{
        position: 'absolute', left, top, width, height, border: '1px solid #555',
        boxSizing: 'border-box', background: '#fff', fontFamily: FONT, fontSize,
      }}
    >
      {GAS_NAMES.map(([base, sub, rest], i) => {
        const c = GAS_COLORS[i];
        const m = GAS_MARKERS[i];
        return (
          <div key={i} style={{ position: 'absolute', left: 0, top: i * rowH, height: rowH, width: '100%' }}>
            <div
              style={{
                position: 'absolute', left: 4, top: rowH / 2 - 1, width: lineW,
                borderTop: i === 0 ? `1px dotted ${c}` : `${i === 1 ? 2 : 1.5}px solid ${c}`,
              }}
            />
            {m && (
              <div
                style={{
                  position: 'absolute', left: 4 + lineW / 2 - 4, top: rowH / 2 - 4.5, width: 8, height: 8,
                  background: c, borderRadius: m === 'circle' ? 4 : 0,
                }}
              />
            )}
            <div style={{ position: 'absolute', left: textX, top: 0, lineHeight: `${rowH}px`, whiteSpace: 'nowrap' }}>
              {base}
              {sub && <span style={{ fontSize: '0.7em', position: 'relative', top: '0.3em' }}>{sub}</span>}
              {rest}
            </div>
          </div>
        );
      })}
    </div>
  );
}

const gasSeries = (pt10: Pt[], pt20: Pt[], he: Pt[], h2: Pt[], n2: Pt[], h2o: Pt[], co2: Pt[], o2: Pt[], ch4: Pt[]): Series[] => [
  { data: o2, color: GAS_COLORS[7], width: 1, opacity: 0.75 },
  { data: he, color: GAS_COLORS[2], width: 1, opacity: 0.85 },
  { data: h2, color: GAS_COLORS[3], width: 1.3 },
  { data: co2, color: GAS_COLORS[6], width: 2 },
  { data: n2, color: GAS_COLORS[4], width: 2 },
  { data: h2o, color: GAS_COLORS[5], width: 2.5 },
  { data: ch4, color: GAS_COLORS[8], width: 2.5 },
  { data: pt10, color: GAS_COLORS[0], width: 1, dash: '2 2' },
  { data: pt20, color: GAS_COLORS[1], width: 1.2 },
];

export default function App() {
  const titleStyle: React.CSSProperties = {
    position: 'absolute', width: 200, textAlign: 'center', fontFamily: FONT, fontSize: 45, lineHeight: '45px', color: '#000',
  };
  return (
    <div style={{ position: 'absolute', left: 0, top: 0, width: W, height: 1225, background: '#fff', overflow: 'hidden' }}>
      <Panel
        top={0}
        height={305}
        plot={{ left: 125, right: 655, top: 53, bottom: 251 }}
        xMax={122.8}
        xMajor={CM03_HOUR_TICKS}
        xStep={5}
        yMax={388}
        decades={POWER_DECADES}
        labels={POWER_LABELS}
        yTitle="forward power [kW]"
        series={[
          { data: CM03_CAV_IN, color: POWER_COLORS[0], width: 1.2, step: true },
          { data: CM03_CAV_OUT, color: POWER_COLORS[1], width: 1.2, step: true },
        ]}
      />
      <Panel
        top={305}
        height={310}
        plot={{ left: 125, right: 655, top: 67, bottom: 264 }}
        xMax={122.8}
        xMajor={CM03_HOUR_TICKS}
        xStep={5}
        yMax={4.1e-6}
        decades={PRESSURE_DECADES}
        labels={PRESSURE_LABELS}
        yTitle="pressure [mbar]"
        series={gasSeries(CM03_PT10, CM03_PT20, CM03_HE, CM03_H2, CM03_N2, CM03_H2O, CM03_CO2, CM03_O2, CM03_CH4)}
        arrow={CM03_ARROW}
        arrowAngle={57}
      />
      <Panel
        top={615}
        height={300}
        plot={{ left: 127, right: 668, top: 37, bottom: 240 }}
        xMax={55.7}
        xMajor={CM07_HOUR_TICKS}
        xStep={2}
        yMax={400}
        decades={POWER_DECADES}
        labels={POWER_LABELS}
        yTitle="forward power [kW]"
        series={[
          { data: CM07_CAV_IN, color: POWER_COLORS[0], width: 1.2, step: true },
          { data: CM07_CAV_OUT, color: POWER_COLORS[1], width: 1.2, step: true },
        ]}
      />
      <Panel
        top={915}
        height={310}
        plot={{ left: 127, right: 668, top: 63, bottom: 266 }}
        xMax={55.7}
        xMajor={CM07_HOUR_TICKS}
        xStep={2}
        yMax={4.65e-6}
        decades={PRESSURE_DECADES}
        labels={PRESSURE_LABELS}
        yTitle="pressure [mbar]"
        series={gasSeries(CM07_PT10, CM07_PT20, CM07_HE, CM07_H2, CM07_N2, CM07_H2O, CM07_CO2, CM07_O2, CM07_CH4)}
        arrow={CM07_ARROW}
        arrowAngle={59}
      />
      <div style={{ ...titleStyle, left: 310, top: 4 }}>CM03</div>
      <div style={{ ...titleStyle, left: 320, top: 607 }}>CM07</div>
      <PowerLegend left={672} top={129} width={122} />
      <PowerLegend left={688} top={720} width={126} />
      <GasLegend left={665} top={365} width={133} height={217} rowH={24.5} fontSize={14.5} lineW={23} textX={34} />
      <GasLegend left={684} top={980} width={126} height={200} rowH={22.3} fontSize={13.5} lineW={22} textX={31} />
    </div>
  );
}
